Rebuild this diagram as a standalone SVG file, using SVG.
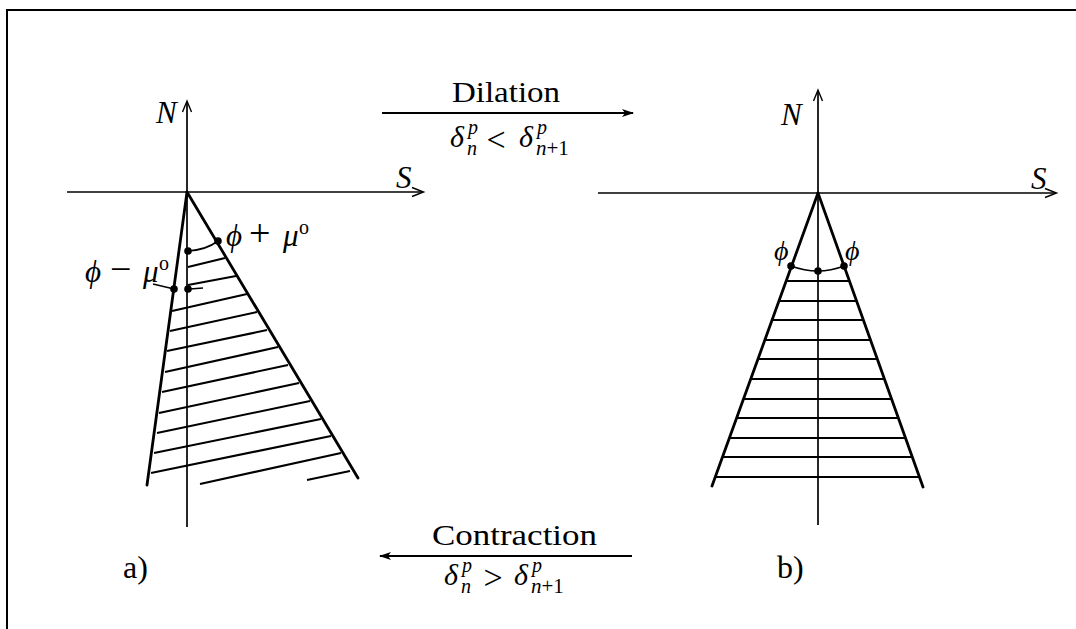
<svg xmlns="http://www.w3.org/2000/svg" width="1076" height="629" viewBox="0 0 1076 629">
<style>
  .t { font-family: "Liberation Serif", "DejaVu Serif", serif; fill: #000; }
  .i { font-style: italic; }
  .ax { stroke: #000; stroke-width: 1.7; fill: none; }
  .side { stroke: #000; stroke-width: 2.8; fill: none; stroke-linecap: round; }
  .hatch { stroke: #000; stroke-width: 2.1; fill: none; }
  .conn { stroke: #000; stroke-width: 2; fill: none; }
  .open { stroke: #000; stroke-width: 1.4; fill: none; }
</style>
<defs>
  <marker id="ah" viewBox="0 0 12 8" refX="11" refY="4" markerWidth="12" markerHeight="8" markerUnits="userSpaceOnUse" orient="auto">
    <path d="M0,0 L12,4 L0,8 L3,4 Z" fill="#000"/>
  </marker>
</defs>
<rect width="1076" height="629" fill="#fff"/>
<!-- frame -->
<path d="M7,629 L7,10 L1076,10" stroke="#000" stroke-width="2" fill="none"/>

<g id="panel-a">
  <line class="ax" x1="187" y1="102" x2="187" y2="527"/>
  <path class="open" d="M182.5,112 L187,101 L191.5,112"/>
  <line class="ax" x1="67" y1="192" x2="423" y2="192"/>
  <path class="open" d="M412,187.5 L423.5,192 L412,196.5"/>
  <text class="t i" x="156" y="123" font-size="31">N</text>
  <text class="t i" x="396" y="188" font-size="31">S</text>
  <line class="side" x1="187" y1="192" x2="147" y2="485"/>
  <line class="side" x1="187" y1="192" x2="358" y2="478"/>
  <g class="hatch">
    <line x1="188" y1="267" x2="225" y2="258"/>
    <line x1="188" y1="285" x2="236" y2="276"/>
    <line x1="172" y1="311" x2="247" y2="294"/>
    <line x1="170" y1="331" x2="257" y2="312"/>
    <line x1="167" y1="351" x2="267" y2="330"/>
    <line x1="165" y1="372" x2="278" y2="347"/>
    <line x1="162" y1="392" x2="288" y2="365"/>
    <line x1="159" y1="413" x2="299" y2="383"/>
    <line x1="157" y1="433" x2="310" y2="401"/>
    <line x1="154" y1="453" x2="321" y2="419"/>
    <line x1="151" y1="473" x2="331" y2="436"/>
    <line x1="200" y1="484" x2="341" y2="453"/>
    <line x1="307" y1="480" x2="350" y2="471"/>
  </g>
  <path d="M188,251 Q206,250 218,241" stroke="#000" stroke-width="1.6" fill="none"/>
  <line x1="153" y1="284" x2="174" y2="289" stroke="#000" stroke-width="1.4"/>
  <line x1="190" y1="289" x2="203" y2="288" stroke="#000" stroke-width="1.4"/>
  <circle cx="188" cy="251" r="3.8"/>
  <circle cx="218" cy="241" r="3.8"/>
  <circle cx="174" cy="289" r="3.8"/>
  <circle cx="188" cy="289" r="3.8"/>
  <text class="t i" x="226" y="246" font-size="31">ϕ</text>
  <text class="t" x="249" y="246" font-size="38">+</text>
  <text class="t i" x="283" y="246" font-size="31">μ</text>
  <text class="t" x="299" y="234" font-size="20">o</text>
  <text class="t i" x="85" y="282" font-size="31">ϕ</text>
  <text class="t" x="110" y="282" font-size="38">−</text>
  <text class="t i" x="143" y="282" font-size="31">μ</text>
  <text class="t" x="159" y="270" font-size="20">o</text>
  <text class="t" x="123" y="578" font-size="32">a)</text>
</g>

<g id="panel-b">
  <line class="ax" x1="818" y1="91" x2="818" y2="525"/>
  <path class="open" d="M813.5,101 L818,90 L822.5,101"/>
  <line class="ax" x1="598" y1="193" x2="1056" y2="193"/>
  <path class="open" d="M1045,188.5 L1056.5,193 L1045,197.5"/>
  <text class="t i" x="781" y="125" font-size="31">N</text>
  <text class="t i" x="1031" y="189" font-size="31">S</text>
  <line class="side" x1="818" y1="193" x2="712" y2="486"/>
  <line class="side" x1="818" y1="193" x2="923" y2="487"/>
  <g class="hatch">
    <line x1="786" y1="281" x2="849" y2="281"/>
    <line x1="779" y1="301" x2="857" y2="301"/>
    <line x1="772" y1="320" x2="863" y2="320"/>
    <line x1="765" y1="340" x2="871" y2="340"/>
    <line x1="758" y1="359" x2="877" y2="359"/>
    <line x1="751" y1="379" x2="885" y2="379"/>
    <line x1="743" y1="399" x2="892" y2="399"/>
    <line x1="737" y1="418" x2="899" y2="418"/>
    <line x1="729" y1="438" x2="906" y2="438"/>
    <line x1="722" y1="457" x2="913" y2="457"/>
    <line x1="715" y1="477" x2="920" y2="477"/>
  </g>
  <path d="M791,266 Q818,276 844,266" stroke="#000" stroke-width="1.6" fill="none"/>
  <circle cx="791" cy="266" r="3.8"/>
  <circle cx="818" cy="271" r="3.8"/>
  <circle cx="844" cy="266" r="3.8"/>
  <text class="t i" x="774" y="260" font-size="28">ϕ</text>
  <text class="t i" x="845" y="260" font-size="28">ϕ</text>
  <text class="t" x="777" y="578" font-size="32">b)</text>
</g>

<g id="label-dilation">
  <text class="t" x="452" y="102" font-size="30" textLength="108" lengthAdjust="spacingAndGlyphs">Dilation</text>
  <text class="t i" x="450" y="147" font-size="30">δ</text>
  <text class="t i" x="468" y="134" font-size="20">p</text>
  <text class="t i" x="467" y="155" font-size="20">n</text>
  <text class="t" x="496" y="151" font-size="34" text-anchor="middle">&lt;</text>
  <text class="t i" x="519" y="147" font-size="30">δ</text>
  <text class="t i" x="537" y="134" font-size="20">p</text>
  <text class="t" x="536" y="155" font-size="21"><tspan class="i">n</tspan>+1</text>
</g>

<g id="label-contraction">
  <text class="t" x="432" y="545" font-size="30" textLength="165" lengthAdjust="spacingAndGlyphs">Contraction</text>
  <text class="t i" x="444" y="585" font-size="30">δ</text>
  <text class="t i" x="462" y="572" font-size="20">p</text>
  <text class="t i" x="461" y="593" font-size="20">n</text>
  <text class="t" x="493" y="589" font-size="34" text-anchor="middle">&gt;</text>
  <text class="t i" x="514" y="585" font-size="30">δ</text>
  <text class="t i" x="532" y="572" font-size="20">p</text>
  <text class="t" x="531" y="593" font-size="21"><tspan class="i">n</tspan>+1</text>
</g>

<g id="connectors">
  <line class="conn" x1="382" y1="113" x2="633" y2="113" marker-end="url(#ah)"/>
  <line class="conn" x1="632" y1="556" x2="380" y2="556" marker-end="url(#ah)"/>
</g>
</svg>
